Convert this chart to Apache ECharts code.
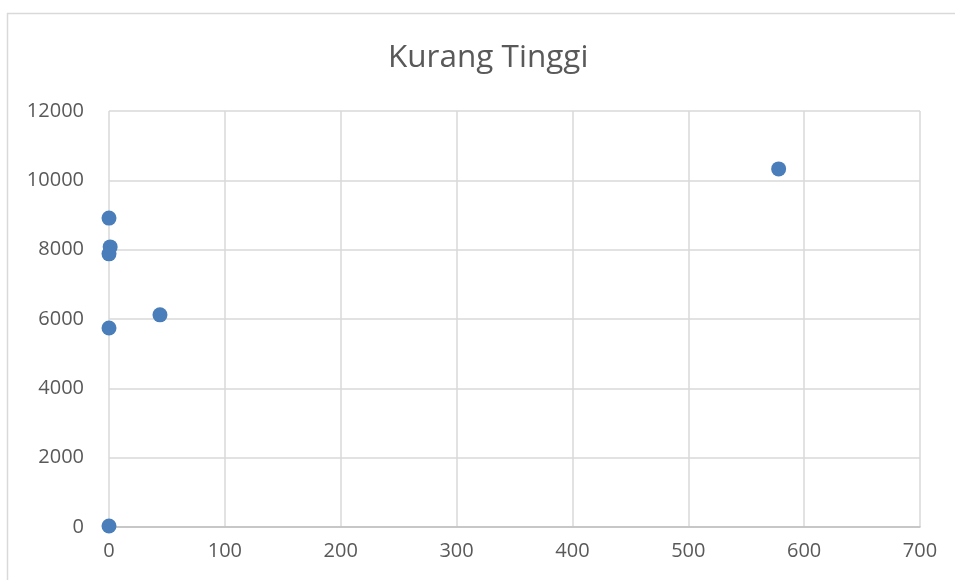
<!DOCTYPE html>
<html>
<head>
<meta charset="utf-8">
<script src="https://cdn.jsdelivr.net/npm/echarts@6/dist/echarts.min.js"></script>
<style>
  html, body { margin: 0; padding: 0; background: #ffffff; }
  #chart { width: 955px; height: 580px; }
</style>
</head>
<body>
<div id="chart"></div>
<script>
// Scatter values: x and y of each observation
const xValues = [0, 1, 0, 0, 44, 578, 0];
const yValues = [8910, 8080, 7880, 5740, 6120, 10330, 30];

const titleText = 'Kurang Tinggi';
const xTicks = { min: 0, max: 700, interval: 100 };
const yTicks = { min: 0, max: 12000, interval: 2000 };

const points = xValues.map((x, i) => [x, yValues[i]]);

const font = '"Open Sans", "Liberation Sans", sans-serif';
const plainNumber = v => String(v);
const chart = echarts.init(document.getElementById('chart'), null, { renderer: 'canvas' });

chart.setOption({
  backgroundColor: '#ffffff',
  animation: false,
  graphic: [{
    type: 'rect',
    shape: { x: 7.5, y: 13.5, width: 1000, height: 1000 },
    style: { fill: 'none', stroke: '#d9d9d9', lineWidth: 1.5 },
    silent: true
  }],
  title: {
    text: titleText,
    left: 383,
    top: 37,
    textStyle: { fontFamily: font, fontSize: 31.5, fontWeight: 'normal', color: '#595959' }
  },
  grid: { left: 109, right: 35, top: 111, bottom: 53, containLabel: false },
  xAxis: {
    type: 'value',
    min: xTicks.min, max: xTicks.max, interval: xTicks.interval,
    axisLine: { show: true, onZero: false, lineStyle: { color: '#bfbfbf', width: 1.5 } },
    axisTick: { show: false },
    splitLine: { show: true, lineStyle: { color: '#d9d9d9', width: 1.5 } },
    axisLabel: { fontFamily: font, fontSize: 20, color: '#595959', margin: 14, formatter: plainNumber }
  },
  yAxis: {
    type: 'value',
    min: yTicks.min, max: yTicks.max, interval: yTicks.interval,
    axisLine: { show: false },
    axisTick: { show: false },
    splitLine: { show: true, lineStyle: { color: '#d9d9d9', width: 1.5 } },
    axisLabel: { fontFamily: font, fontSize: 20, color: '#595959', margin: 25, formatter: plainNumber }
  },
  series: [{
    type: 'scatter',
    data: points,
    symbol: 'circle',
    symbolSize: 15,
    itemStyle: { color: '#4a7ebb', opacity: 1 }
  }]
});
</script>
</body>
</html>
